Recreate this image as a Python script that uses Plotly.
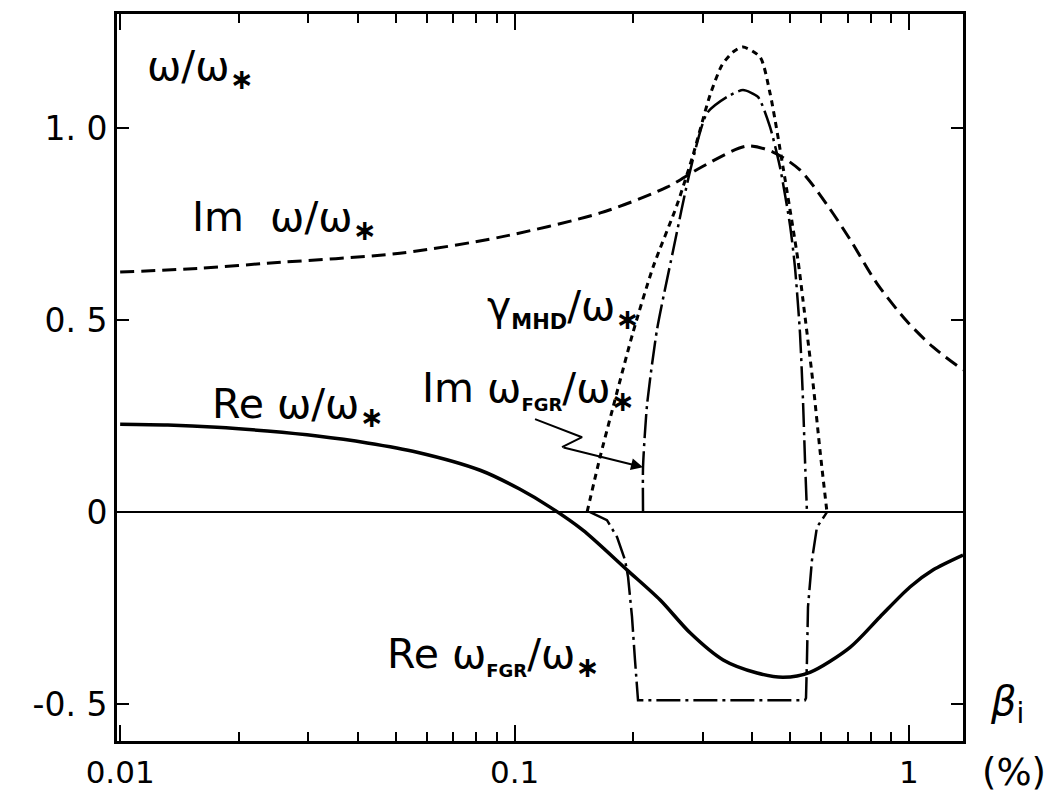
import plotly.graph_objects as go
import numpy as np

# ---- data: beta_i (%) and normalised frequencies ----
re_w_x = [0.01, 0.0132, 0.0176, 0.0236, 0.0316, 0.0423, 0.0566, 0.0818, 0.103, 0.123,
          0.149, 0.193, 0.234, 0.279, 0.338, 0.412, 0.48, 0.561, 0.709,
          0.844, 1.006, 1.15, 1.371]
re_w_y = [0.229, 0.227, 0.221, 0.211, 0.198, 0.180, 0.156, 0.109, 0.060, 0.013,
          -0.047, -0.151, -0.229, -0.315, -0.385, -0.419, -0.430, -0.417, -0.352,
          -0.273, -0.195, -0.151, -0.112]

im_w_x = [0.01, 0.016, 0.0236, 0.0512, 0.0919, 0.165, 0.2435, 0.295, 0.388, 0.452,
          0.529, 0.62, 0.709, 0.83, 0.988, 1.15, 1.371]
im_w_y = [0.625, 0.635, 0.648, 0.674, 0.716, 0.779, 0.846, 0.896, 0.953, 0.9375,
          0.891, 0.80, 0.71, 0.595, 0.497, 0.430, 0.370]

mhd_x = [0.1527, 0.1647, 0.1777, 0.1998, 0.2245, 0.2582, 0.2835, 0.3131, 0.3357, 0.358,
         0.3795, 0.4191, 0.4443, 0.4794, 0.5231, 0.5386, 0.5711, 0.5948, 0.6196]
mhd_y = [0.0, 0.143, 0.273, 0.469, 0.638, 0.80, 0.930, 1.086, 1.164, 1.198,
         1.211, 1.185, 1.091, 0.898, 0.656, 0.552, 0.336, 0.161, 0.0]

im_fgr_x = [0.2117, 0.2117, 0.2167, 0.2297, 0.2522, 0.2786, 0.3076, 0.3457, 0.3795, 0.4142,
            0.4443, 0.471, 0.4994, 0.514, 0.5293, 0.5386, 0.545, 0.5513]
im_fgr_y = [0.0, 0.117, 0.279, 0.475, 0.680, 0.888, 1.039, 1.081, 1.099, 1.081,
            1.003, 0.898, 0.747, 0.638, 0.466, 0.292, 0.135, 0.0]

re_fgr_x = [0.1554, 0.1715, 0.1819, 0.1906, 0.194, 0.1985, 0.202, 0.2044, 0.2056,
            0.545, 0.5482, 0.5513, 0.5546, 0.5676, 0.5844, 0.6125, 0.6196]
re_fgr_y = [0.0, -0.021, -0.065, -0.125, -0.169, -0.273, -0.385, -0.456, -0.49,
            -0.49, -0.484, -0.385, -0.247, -0.125, -0.039, -0.008, 0.0]

# zig-zag leader from the "Im w_FGR" label to its curve
leader_x = [0.1127, 0.1483, 0.1319]
leader_y = [0.242, 0.195, 0.169]
leader_tip = (0.2117, 0.117)

x_range = [-2.008, 0.137]
y_range = [-0.596, 1.297]
x_major = [0.01, 0.1, 1]
x_major_text = ["0.01", "0.1", "1"]
x_minor = [0.02, 0.03, 0.04, 0.05, 0.06, 0.07, 0.08, 0.09,
           0.2, 0.3, 0.4, 0.5, 0.6, 0.7, 0.8, 0.9]
y_ticks = [-0.5, 0.0, 0.5, 1.0]
y_tick_text = ["-0. 5", "0", "0. 5", "1. 0"]

FONT = "DejaVu Sans"
INK = "black"
STAR = "<sub><b>∗</b></sub>"


def sub_small(txt, size):
    return f"<sub><span style='font-size:{size}px'><b>{txt}</b></span></sub>"


fig = go.Figure()

fig.add_trace(go.Scatter(x=im_w_x, y=im_w_y, mode="lines",
                         line=dict(color=INK, width=3, dash="14px,7px", shape="spline", smoothing=0.8)))
fig.add_trace(go.Scatter(x=re_w_x, y=re_w_y, mode="lines",
                         line=dict(color=INK, width=3.5, shape="spline", smoothing=0.8)))
fig.add_trace(go.Scatter(x=mhd_x, y=mhd_y, mode="lines",
                         line=dict(color=INK, width=3, dash="6px,5px", shape="spline", smoothing=0.7)))
fig.add_trace(go.Scatter(x=im_fgr_x, y=im_fgr_y, mode="lines",
                         line=dict(color=INK, width=2.5, dash="24px,5px,3px,5px", shape="spline", smoothing=0.6)))
fig.add_trace(go.Scatter(x=re_fgr_x, y=re_fgr_y, mode="lines",
                         line=dict(color=INK, width=2.5, dash="24px,5px,3px,5px")))
fig.add_trace(go.Scatter(x=leader_x, y=leader_y, mode="lines",
                         line=dict(color=INK, width=2)))
# empty trace so the minor-tick axis gets drawn
fig.add_trace(go.Scatter(x=x_minor, y=[None] * len(x_minor), mode="lines",
                         xaxis="x2", yaxis="y", hoverinfo="skip"))

fig.add_annotation(x=np.log10(leader_tip[0]), y=leader_tip[1],
                   ax=np.log10(leader_x[-1]), ay=leader_y[-1], axref="x", ayref="y",
                   xref="x", yref="y", text="", showarrow=True,
                   arrowhead=2, arrowsize=1.2, arrowwidth=2, arrowcolor=INK)

labels = [
    ("ω/ω" + STAR, 145, 1.155),
    ("Im  ω/ω" + STAR, 190, 0.76),
    ("γ" + sub_small("MHD", 21) + "/ω" + STAR, 485, 0.53),
    ("Im ω" + sub_small("FGR", 18) + "/ω" + STAR, 420, 0.315),
    ("Re ω/ω" + STAR, 210, 0.275),
    ("Re ω" + sub_small("FGR", 18) + "/ω" + STAR, 385, -0.377),
]
# left edge in pixels -> log10(beta) on the axis (0.1 at x=514.5 px, 394.5 px per decade)
for text, px, yv in labels:
    fig.add_annotation(x=-1 + (px - 514.5) / 394.5, y=yv, xref="x", yref="y",
                       text=text, showarrow=False, xanchor="left", yanchor="middle",
                       font=dict(family=FONT, size=41, color=INK))

fig.add_annotation(x=1.03, y=-0.5, xref="paper", yref="y", text="<i>β</i><sub>i</sub>",
                   showarrow=False, xanchor="left", yanchor="middle",
                   font=dict(family=FONT, size=40, color=INK))
fig.add_annotation(x=1.02, y=-0.044, xref="paper", yref="paper", text="(%)",
                   showarrow=False, xanchor="left", yanchor="middle",
                   font=dict(family=FONT, size=37, color=INK))

fig.update_layout(
    xaxis=dict(type="log", range=x_range,
               tickvals=x_major, ticktext=x_major_text,
               ticks="inside", ticklen=16, tickwidth=2, tickcolor=INK,
               showline=True, linewidth=3, linecolor=INK, mirror="ticks",
               ticklabelstandoff=2, automargin=False,
               showgrid=False, zeroline=False,
               tickfont=dict(family=FONT, size=31, color=INK)),
    # second log axis carrying the minor (2..9) ticks on bottom and top
    xaxis2=dict(type="log", range=x_range, overlaying="x", anchor="y", side="bottom",
                tickvals=x_minor, ticktext=[""] * len(x_minor),
                ticks="inside", ticklen=9, tickwidth=2, tickcolor=INK,
                showline=False, mirror="ticks", automargin=False,
                showgrid=False, zeroline=False),
    yaxis=dict(range=y_range,
               tickvals=y_ticks, ticktext=y_tick_text,
               ticks="inside", ticklen=12, tickwidth=2, tickcolor=INK,
               showline=True, linewidth=3, linecolor=INK, mirror="ticks",
               showgrid=False, zeroline=True, zerolinecolor=INK, zerolinewidth=2,
               ticklabelstandoff=0, automargin=False,
               tickfont=dict(family=FONT, size=33, color=INK)),
    width=1054, height=794, autosize=False,
    margin=dict(l=117, r=91, t=14, b=53, autoexpand=False),
    paper_bgcolor="white", plot_bgcolor="white",
    showlegend=False,
)

fig.write_html("out.html")
